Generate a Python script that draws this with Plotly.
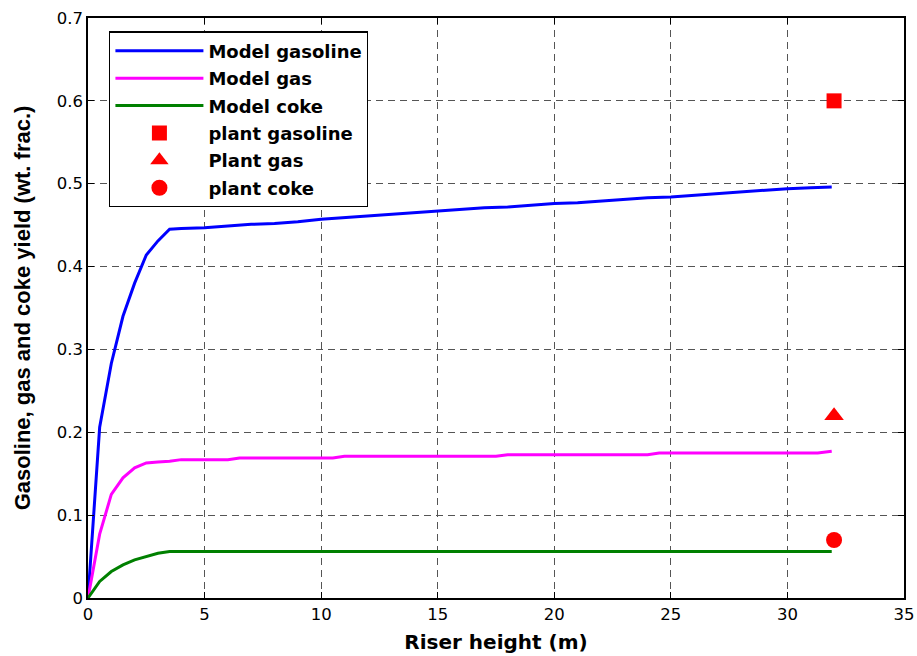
import plotly.graph_objects as go

# Riser height (m)
x_gasoline = [0, 0.5, 1, 1.5, 2, 2.5, 3, 3.5, 4, 5, 6, 7, 8, 9, 10, 11, 12, 13, 14, 15, 16,
              17, 18, 19, 20, 21, 22, 23, 24, 25, 26, 27, 28, 29, 30, 31, 31.9]
y_gasoline = [0, 0.206, 0.283, 0.340, 0.380, 0.414, 0.431, 0.445, 0.446, 0.447, 0.449, 0.451,
              0.452, 0.454, 0.457, 0.459, 0.461, 0.463, 0.465, 0.467, 0.469, 0.471, 0.472,
              0.474, 0.476, 0.477, 0.479, 0.481, 0.483, 0.484, 0.486, 0.488, 0.490, 0.492,
              0.494, 0.495, 0.496]

x_gas = [0, 0.5, 1, 1.5, 2, 2.5, 3, 3.5, 4, 6, 6.5, 10.5, 11, 17.5, 18, 24, 24.5, 31.3, 31.9]
y_gas = [0, 0.077, 0.125, 0.145, 0.157, 0.163, 0.164, 0.165, 0.167, 0.167, 0.169, 0.169,
         0.171, 0.171, 0.173, 0.173, 0.175, 0.175, 0.177]

x_coke = [0, 0.5, 1, 1.5, 2, 2.5, 3, 3.5, 31.9]
y_coke = [0, 0.020, 0.032, 0.040, 0.046, 0.050, 0.054, 0.056, 0.056]

plant_x = [32]
plant_gasoline = [0.60]
plant_gas = [0.22]
plant_coke = [0.07]

x_ticks = [0, 5, 10, 15, 20, 25, 30, 35]
y_ticks = [0, 0.1, 0.2, 0.3, 0.4, 0.5, 0.6, 0.7]

fig = go.Figure()
fig.add_trace(go.Scatter(x=x_gasoline, y=y_gasoline, mode="lines", name="<b>Model gasoline</b>",
                         line=dict(color="#0000FF", width=3), legendgroup="a"))
fig.add_trace(go.Scatter(x=x_gas, y=y_gas, mode="lines", name="<b>Model gas</b>",
                         line=dict(color="#FF00FF", width=3), legendgroup="b"))
fig.add_trace(go.Scatter(x=x_coke, y=y_coke, mode="lines", name="<b>Model coke</b>",
                         line=dict(color="#008000", width=3), legendgroup="c"))
fig.add_trace(go.Scatter(x=plant_x, y=plant_gasoline, mode="markers", name="<b>plant gasoline</b>",
                         marker=dict(color="#FF0000", symbol="square", size=15), legendgroup="d"))
fig.add_trace(go.Scatter(x=plant_x, y=plant_gas, mode="markers", name="<b>Plant gas</b>",
                         marker=dict(color="#FF0000", symbol="triangle-up", size=17), legendgroup="e"))
fig.add_trace(go.Scatter(x=plant_x, y=plant_coke, mode="markers", name="<b>plant coke</b>",
                         marker=dict(color="#FF0000", symbol="circle", size=16), legendgroup="f"))

axis_common = dict(
    showline=True, linecolor="black", linewidth=1.5, mirror="ticks",
    ticks="inside", ticklen=6, tickcolor="black",
    showgrid=True, gridcolor="#555555", gridwidth=1, griddash="7px,5px",
    zeroline=False, automargin=False,
    tickfont=dict(family="DejaVu Sans", size=16.5, color="black"),
)

fig.update_layout(
    width=917, height=656,
    margin=dict(l=88, r=13, t=18, b=58),
    plot_bgcolor="white", paper_bgcolor="white",
    font=dict(family="Liberation Sans, Arial", color="black"),
    xaxis=dict(range=[0, 35], tickvals=x_ticks, ticktext=[str(v) for v in x_ticks],
               title=dict(text="<b>Riser height (m)</b>",
                          font=dict(family="DejaVu Sans", size=20), standoff=12),
               **axis_common),
    yaxis=dict(range=[0, 0.7], tickvals=y_ticks, ticktext=["0"] + [f"{v:.1f}" for v in y_ticks[1:]],
               title=dict(text="<b>Gasoline, gas and coke yield (wt. frac.)</b>",
                          font=dict(family="Liberation Sans, Arial", size=22), standoff=20),
               **axis_common),
    legend=dict(
        x=0.026, y=0.977, xanchor="left", yanchor="top",
        bgcolor="white", bordercolor="black", borderwidth=1.2,
        font=dict(family="DejaVu Sans", size=18, color="black"),
        tracegroupgap=1, itemwidth=88,
    ),
    showlegend=True,
)

fig.write_html("out.html")
